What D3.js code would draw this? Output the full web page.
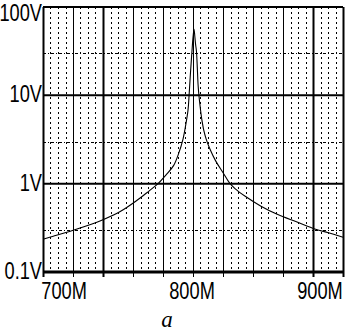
<!DOCTYPE html>
<html>
<head>
<meta charset="utf-8">
<script src="https://cdn.jsdelivr.net/npm/d3@7"></script>
<style>
	html, body { margin: 0; padding: 0; background: #fff; }
	svg { display: block; }
</style>
</head>
<body>
<div id="chart"></div>
<script>
	'use strict';
	// frequency in MHz, voltage in V
	var freqs = [682, 690, 705, 718, 727, 742, 755, 765, 771.9, 778, 784, 788, 791.4, 793.5, 795.3, 796.1,
		797.0, 797.9, 798.4, 799.2, 800, 800.6, 801.2, 801.9, 802.6, 803.2, 803.9, 805, 806.2, 807.5, 809.5,
		812.5, 817, 822.7, 827.7, 832, 840, 852, 865, 880, 895, 905, 916.4];
	var volts = [0.235, 0.254, 0.295, 0.34, 0.38, 0.48, 0.64, 0.83, 1.0, 1.25, 1.6, 2.2, 3.2, 4.6, 6.8, 9.75,
		16, 25, 31.6, 45, 56, 47, 38, 31.6, 20, 13, 9.75, 7.0, 5.2, 4.1, 3.2,
		2.45, 1.8, 1.33, 1.02, 0.88, 0.72, 0.56, 0.45, 0.37, 0.305, 0.278, 0.247];
	var xTicks = [700, 800, 900];
	var xTickLabels = ['700M', '800M', '900M'];
	var yTicks = [0.1, 1, 10, 100];
	var yTickLabels = ['0.1V', '1V', '10V', '100V'];
	var yHalfTicks = [0.3, 3, 30];
	var caption = 'a';

	var width = 346, height = 335;
	var margin = {top: 7, right: 3, bottom: 62, left: 43};
	var plotW = width - margin.left - margin.right,
		plotH = height - margin.top - margin.bottom;

	var svg = d3.select('#chart')
		.append('svg')
		.attr('width', width)
		.attr('height', height);
	var g = svg.append('g')
		.attr('transform', 'translate(' + margin.left + ',' + margin.top + ')');

	var x = d3.scaleLinear()
		.domain([682, 916.4])
		.range([0, plotW]);
	var y = d3.scaleLog()
		.domain([0.1, 100])
		.range([plotH - 1, 0]);

	// grid: 10 equal divisions, 3 dotted lines in each
	var majorX = d3.range(0, 11).map(function (i) {
		return x.invert(i * plotW / 10);
	});
	var minorX = d3.range(0, 40).filter(function (i) { return i % 4 !== 0; }).map(function (i) {
		return x.invert(i * plotW / 40);
	});

	g.selectAll('.minorx')
		.data(minorX)
		.enter().append('line')
		.attr('x1', function (d) { return Math.round(x(d)) + 0.5; })
		.attr('x2', function (d) { return Math.round(x(d)) + 0.5; })
		.attr('y1', 0)
		.attr('y2', plotH)
		.attr('stroke', '#000')
		.attr('stroke-width', 1)
		.attr('stroke-dasharray', '2,3');

	g.selectAll('.halfy')
		.data(yHalfTicks)
		.enter().append('line')
		.attr('x1', 0)
		.attr('x2', plotW)
		.attr('y1', function (d) { return Math.round(y(d)) + 0.5; })
		.attr('y2', function (d) { return Math.round(y(d)) + 0.5; })
		.attr('stroke', '#000')
		.attr('stroke-width', 1)
		.attr('stroke-dasharray', '3,2,1,2');

	g.selectAll('.majorx')
		.data(majorX)
		.enter().append('line')
		.attr('x1', function (d) { return Math.round(x(d)) + 0.5; })
		.attr('x2', function (d) { return Math.round(x(d)) + 0.5; })
		.attr('y1', 0)
		.attr('y2', plotH + 4)
		.attr('stroke', '#000')
		.attr('stroke-width', function (d, i) {
			return (i === 0 || i === 2 || i === 9 || i === 10) ? 2 : 1;
		});

	g.selectAll('.majory')
		.data(yTicks)
		.enter().append('line')
		.attr('x1', 0)
		.attr('x2', plotW)
		.attr('y1', function (d) { return y(d); })
		.attr('y2', function (d) { return y(d); })
		.attr('stroke', '#000')
		.attr('stroke-width', function (d) { return d === 0.1 ? 3 : 2; });

	// curve
	var line = d3.line()
		.curve(d3.curveCatmullRom.alpha(0.5))
		.x(function (d) { return x(d[0]); })
		.y(function (d) { return y(d[1]); });
	g.append('path')
		.datum(d3.zip(freqs, volts))
		.attr('d', line)
		.attr('fill', 'none')
		.attr('stroke', '#000')
		.attr('stroke-width', 1.1);

	// labels
	var font = '"Liberation Sans", Arial, sans-serif';
	yTicks.forEach(function (v, i) {
		var by = Math.max(margin.top + y(v) + 7, 21);
		svg.append('g')
			.attr('transform', 'translate(42,' + by + ') scale(0.76,1)')
			.append('text')
			.attr('text-anchor', 'end')
			.attr('font-family', font)
			.attr('font-size', 24)
			.text(yTickLabels[i]);
	});
	xTicks.forEach(function (v, i) {
		svg.append('g')
			.attr('transform', 'translate(' + (margin.left + x(v) - 2) + ',299) scale(0.76,1)')
			.append('text')
			.attr('text-anchor', 'middle')
			.attr('font-family', font)
			.attr('font-size', 24)
			.text(xTickLabels[i]);
	});
	svg.append('text')
		.attr('x', 167)
		.attr('y', 327)
		.attr('text-anchor', 'middle')
		.attr('font-family', '"Liberation Serif", "DejaVu Serif", serif')
		.attr('font-style', 'italic')
		.attr('font-size', 23)
		.text(caption);
</script>
</body>
</html>
